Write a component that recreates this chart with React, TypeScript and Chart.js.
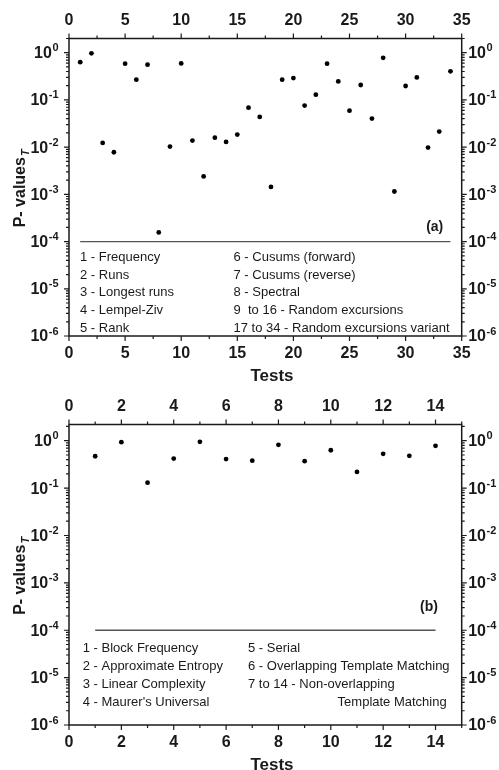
import React, { useEffect, useRef } from 'react';
import { Chart, registerables } from 'chart.js';
Chart.register(...registerables);

// ---------- Data ----------
const testsA = [1, 2, 3, 4, 5, 6, 7, 8, 9, 10, 11, 12, 13, 14, 15, 16, 17, 18, 19, 20, 21, 22, 23, 24, 25, 26, 27, 28, 29, 30, 31, 32, 33, 34];
const pValuesA = [0.63, 0.97, 0.0123, 0.0078, 0.585, 0.268, 0.557, 0.000156, 0.0103, 0.594, 0.0138, 0.0024, 0.0159, 0.0129, 0.0185, 0.0687, 0.0436, 0.00144, 0.268, 0.29, 0.076, 0.129, 0.585, 0.247, 0.0593, 0.207, 0.0403, 0.78, 0.00115, 0.197, 0.30, 0.0098, 0.0214, 0.403];

const testsB = [1, 2, 3, 4, 5, 6, 7, 8, 9, 10, 11, 12, 13, 14];
const pValuesB = [0.47, 0.93, 0.13, 0.42, 0.95, 0.41, 0.38, 0.82, 0.37, 0.63, 0.22, 0.53, 0.48, 0.78];

const threshold = 1e-4;
const thresholdRangeA = [1, 34];
const thresholdRangeB = [1, 14];

const xTicksA = [0, 5, 10, 15, 20, 25, 30, 35];
const xTicksB = [0, 2, 4, 6, 8, 10, 12, 14];
const yDecades = [-6, -5, -4, -3, -2, -1, 0];

const legendA1 = ['1 - Frequency', '2 - Runs', '3 - Longest runs', '4 - Lempel-Ziv', '5 - Rank'];
const legendA2 = ['6 - Cusums (forward)', '7 - Cusums (reverse)', '8 - Spectral', '9  to 16 - Random excursions', '17 to 34 - Random excursions variant'];
const legendB1 = ['1 - Block Frequency', '2 - Approximate Entropy', '3 - Linear Complexity', "4 - Maurer's Universal"];
const legendB2 = ['5 - Serial', '6 - Overlapping Template Matching', '7 to 14 - Non-overlapping'];
const legendB2Extra = 'Template Matching';

const xTitle = 'Tests';
const yTitle = 'P- values';
const yTitleSub = 'T';

const FONT = '"Liberation Sans", Arial, Helvetica, sans-serif';
const INK = '#1a1a1a';

type Panel = {
  tests: number[];
  values: number[];
  range: number[];
  xMax: number;
  yMax: number;
  xTicks: number[];
  minorStep: number;
  col1: string[];
  col2: string[];
  extra?: string;
  tag: string;
  padding: { left: number; right: number; top: number; bottom: number };
  col1X: number;
  col2X: number;
  rowStart: number;
  rowGap: number;
  tagDx: number;
  tagDy: number;
};

function drawSup(ctx: CanvasRenderingContext2D, x: number, y: number, exp: string, align: 'left' | 'right') {
  ctx.save();
  ctx.textBaseline = 'middle';
  ctx.font = `bold 16px ${FONT}`;
  const wBase = ctx.measureText('10').width;
  ctx.font = `bold 11px ${FONT}`;
  const wExp = ctx.measureText(exp).width;
  let x0 = align === 'left' ? x : x - wBase - wExp - 0.5;
  ctx.textAlign = 'left';
  ctx.font = `bold 16px ${FONT}`;
  ctx.fillText('10', x0, y + 1);
  ctx.font = `bold 11px ${FONT}`;
  ctx.textBaseline = 'alphabetic';
  ctx.fillText(exp, x0 + wBase + 0.5, y - 1.5);
  ctx.restore();
}

function makePlugin(p: Panel) {
  return {
    id: 'frame',
    afterDraw(chart: any) {
      const ctx: CanvasRenderingContext2D = chart.ctx;
      const { left, right, top, bottom } = chart.chartArea;
      const xs = chart.scales.x;
      const ys = chart.scales.y;
      ctx.save();
      ctx.strokeStyle = INK;
      ctx.fillStyle = INK;
      ctx.lineWidth = 1.5;
      ctx.strokeRect(left, top, right - left, bottom - top);

      // x ticks
      ctx.lineWidth = 1.2;
      for (let v = 0; v <= p.xMax + 1e-9; v += p.minorStep) {
        const px = xs.getPixelForValue(v);
        const major = p.xTicks.includes(Math.round(v * 1000) / 1000);
        const len = major ? 5 : 3;
        ctx.beginPath();
        ctx.moveTo(px, bottom);
        ctx.lineTo(px, bottom + len);
        ctx.moveTo(px, top);
        ctx.lineTo(px, top - len);
        ctx.stroke();
      }
      ctx.font = `bold 16px ${FONT}`;
      ctx.textAlign = 'center';
      ctx.textBaseline = 'middle';
      for (const v of p.xTicks) {
        const px = xs.getPixelForValue(v);
        ctx.fillText(String(v), px, bottom + 18);
        ctx.fillText(String(v), px, top - 17.5);
      }

      // y ticks
      for (const d of yDecades) {
        for (let k = 1; k <= 9; k++) {
          const val = k * Math.pow(10, d);
          if (val > p.yMax * 1.0001) break;
          const py = ys.getPixelForValue(val);
          const len = k === 1 ? 5 : 3;
          ctx.beginPath();
          ctx.moveTo(left, py);
          ctx.lineTo(left - len, py);
          ctx.moveTo(right, py);
          ctx.lineTo(right + len, py);
          ctx.stroke();
        }
        const py = ys.getPixelForValue(Math.pow(10, d));
        drawSup(ctx, left - 10.5, py, String(d), 'right');
        drawSup(ctx, right + 6.5, py, String(d), 'left');
      }

      // axis titles
      ctx.font = `bold 17px ${FONT}`;
      ctx.textAlign = 'center';
      ctx.textBaseline = 'middle';
      ctx.fillText(xTitle, (left + right) / 2 + 6.6, bottom + 40);
      ctx.save();
      ctx.translate(19, (top + bottom) / 2 + 1.6);
      ctx.rotate(-Math.PI / 2);
      ctx.font = `bold 16px ${FONT}`;
      const w1 = ctx.measureText(yTitle).width;
      ctx.font = `italic bold 11px ${FONT}`;
      const w2 = ctx.measureText(yTitleSub).width;
      const start = -(w1 + w2) / 2;
      ctx.textAlign = 'left';
      ctx.textBaseline = 'alphabetic';
      ctx.font = `bold 16px ${FONT}`;
      ctx.fillText(yTitle, start, 6);
      ctx.font = `italic bold 11px ${FONT}`;
      ctx.fillText(yTitleSub, start + w1 + 1, 10);
      ctx.restore();

      // legend text
      const lineY = ys.getPixelForValue(threshold);
      ctx.font = `13px ${FONT}`;
      ctx.textAlign = 'left';
      ctx.textBaseline = 'middle';
      p.col1.forEach((t, i) => ctx.fillText(t, left + p.col1X, lineY + p.rowStart + i * p.rowGap));
      p.col2.forEach((t, i) => ctx.fillText(t, left + p.col2X, lineY + p.rowStart + i * p.rowGap));
      if (p.extra) {
        ctx.textAlign = 'right';
        ctx.fillText(p.extra, right - 15, lineY + p.rowStart + p.col2.length * p.rowGap);
      }
      // tag
      ctx.font = `bold 14px ${FONT}`;
      ctx.textAlign = 'center';
      ctx.fillText(p.tag, right - p.tagDx, lineY - p.tagDy);
      ctx.restore();
    },
  };
}

function PanelChart({ p, height }: { p: Panel; height: number }) {
  const ref = useRef<HTMLCanvasElement>(null);
  useEffect(() => {
    if (!ref.current) return;
    const chart = new Chart(ref.current, {
      type: 'scatter',
      data: {
        datasets: [
          {
            data: p.tests.map((t, i) => ({ x: t, y: p.values[i] })),
            pointRadius: 2.4,
            pointBackgroundColor: '#000',
            pointBorderWidth: 0,
            showLine: false,
          },
          {
            data: p.range.map((x) => ({ x, y: threshold })),
            showLine: true,
            borderColor: '#555',
            borderWidth: 1.3,
            pointRadius: 0,
          },
        ],
      },
      options: {
        animation: false,
        responsive: false,
        maintainAspectRatio: false,
        layout: { padding: p.padding },
        scales: {
          x: { type: 'linear', min: 0, max: p.xMax, display: false },
          y: { type: 'logarithmic', min: 1e-6, max: p.yMax, display: false },
        },
        plugins: { legend: { display: false }, tooltip: { enabled: false } },
      },
      plugins: [makePlugin(p)],
    } as any);
    return () => chart.destroy();
  }, [p]);
  return <canvas ref={ref} width={499} height={height} style={{ display: 'block' }} />;
}

const panelA: Panel = {
  tests: testsA,
  values: pValuesA,
  range: thresholdRangeA,
  xMax: 35,
  yMax: 2,
  xTicks: xTicksA,
  minorStep: 2.5,
  col1: legendA1,
  col2: legendA2,
  tag: '(a)',
  padding: { left: 69, right: 37.3, top: 38.5, bottom: 49 },
  col1X: 11,
  col2X: 164.5,
  rowStart: 15.7,
  rowGap: 17.8,
  tagDx: 27,
  tagDy: 14.3,
};

const panelB: Panel = {
  tests: testsB,
  values: pValuesB,
  range: thresholdRangeB,
  xMax: 15,
  yMax: 2.2,
  xTicks: xTicksB,
  minorStep: 1,
  col1: legendB1,
  col2: legendB2,
  extra: legendB2Extra,
  tag: '(b)',
  padding: { left: 69, right: 37.3, top: 39.5, bottom: 45 },
  col1X: 13.7,
  col2X: 179,
  rowStart: 17.7,
  rowGap: 18,
  tagDx: 32.7,
  tagDy: 23.3,
};

export default function App() {
  return (
    <div style={{ position: 'absolute', left: 0, top: 0, width: 499, height: 770, background: '#fff' }}>
      <PanelChart p={panelA} height={385} />
      <PanelChart p={panelB} height={385} />
    </div>
  );
}
